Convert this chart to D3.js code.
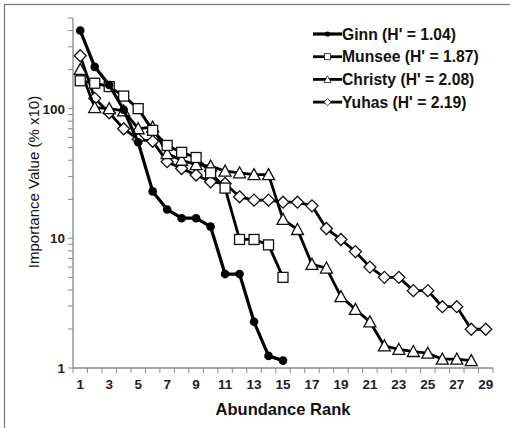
<!DOCTYPE html>
<html>
<head>
<meta charset="utf-8">
<script src="https://cdn.jsdelivr.net/npm/d3@7"></script>
<style>
  body { margin: 0; background: #fff; }
  svg { font-family: "Liberation Sans", Arial, sans-serif; }
</style>
</head>
<body>
<svg id="chart"></svg>
<script>
const CHART_WIDTH = 510;
const CHART_HEIGHT = 428;
const MARGIN = { left: 73, right: 17, top: 18, bottom: 60 };
const WIDTH = CHART_WIDTH - MARGIN.left - MARGIN.right;
const HEIGHT = CHART_HEIGHT - MARGIN.top - MARGIN.bottom;

// ranks 1..29
const RANKS = d3.range(1, 30);
const X_TICK_LABELS = [1, 3, 5, 7, 9, 11, 13, 15, 17, 19, 21, 23, 25, 27, 29];
const Y_TICK_LABELS = [1, 10, 100];

const ginn = [400, 210, 152, 98, 55, 23, 16.7, 14.3, 14.3, 12.3, 5.3, 5.3, 2.27, 1.24, 1.14];
const munsee = [164, 157, 148, 125, 100, 68, 52, 46, 42, 32, 24.4, 9.8, 9.8, 8.9, 5.0];
const christy = [201, 102, 100, 96, 70, 72, 45, 40, 37, 36, 33, 32, 31, 31, 14, 11.7, 6.3, 5.9,
  3.55, 2.83, 2.27, 1.48, 1.39, 1.34, 1.30, 1.17, 1.17, 1.14];
const yuhas = [256, 120, 93, 70, 58, 56, 39, 34.5, 30.8, 27.3, 26.5, 20.9, 19.7, 19.7, 19, 19, 17.8,
  11.9, 9.8, 7.9, 6.0, 5.0, 5.0, 3.95, 3.95, 2.97, 2.97, 1.99, 1.99];

const SERIES_NAMES = ["Ginn (H' = 1.04)", "Munsee (H' = 1.87)", "Christy (H' = 2.08)", "Yuhas (H' = 2.19)"];

const series = [
  { name: SERIES_NAMES[0], values: ginn, marker: "circle", width: 3.2 },
  { name: SERIES_NAMES[1], values: munsee, marker: "square", width: 2.8 },
  { name: SERIES_NAMES[2], values: christy, marker: "triangle", width: 2.8 },
  { name: SERIES_NAMES[3], values: yuhas, marker: "diamond", width: 2.8 }
];

const svg = d3.select('#chart')
  .attr("width", CHART_WIDTH)
  .attr("height", CHART_HEIGHT);

// frame round the picture
svg.append("rect")
  .attr("x", 4.5).attr("y", 4.5)
  .attr("width", CHART_WIDTH).attr("height", CHART_HEIGHT)
  .attr("fill", "none").attr("stroke", "#777").attr("stroke-width", 1.2);

const plot = svg.append("g")
  .attr("transform", `translate(${MARGIN.left},${MARGIN.top})`);

const x = d3.scaleLinear()
  .domain([0.5, RANKS.length + 0.5])
  .range([0, WIDTH]);

const y = d3.scaleLog()
  .domain([1, 500])
  .range([HEIGHT, 0]);

// x axis: ticks between categories, labels on odd ranks
const xAxis = plot.append("g")
  .attr("transform", `translate(0,${HEIGHT})`);
xAxis.append("line")
  .attr("x1", 0).attr("x2", WIDTH)
  .attr("stroke", "#888").attr("stroke-width", 1.3);
xAxis.selectAll(".xt")
  .data(d3.range(0, RANKS.length + 1))
  .join("line")
  .attr("x1", d => x(d + 0.5)).attr("x2", d => x(d + 0.5))
  .attr("y1", 0).attr("y2", 5)
  .attr("stroke", "#888").attr("stroke-width", 1);
xAxis.selectAll(".xl")
  .data(X_TICK_LABELS)
  .join("text")
  .attr("x", d => x(d))
  .attr("y", 21)
  .attr("text-anchor", "middle")
  .attr("font-size", 13.5)
  .attr("font-weight", "bold")
  .attr("fill", "#222")
  .text(d => d);

// y axis with minor ticks
const yAxis = plot.append("g");
yAxis.append("line")
  .attr("y1", 0).attr("y2", HEIGHT)
  .attr("stroke", "#888").attr("stroke-width", 1.3);
const yTicks = [];
[1, 10, 100].forEach(dec => d3.range(1, 10).forEach(m => {
  if (m * dec <= 500) yTicks.push(m * dec);
}));
yAxis.selectAll(".yt")
  .data(yTicks)
  .join("line")
  .attr("x1", -5).attr("x2", 0)
  .attr("y1", d => y(d)).attr("y2", d => y(d))
  .attr("stroke", "#888").attr("stroke-width", 1);
yAxis.selectAll(".yl")
  .data(Y_TICK_LABELS)
  .join("text")
  .attr("x", -8)
  .attr("y", d => y(d))
  .attr("dy", "0.36em")
  .attr("text-anchor", "end")
  .attr("font-size", 13.5)
  .attr("font-weight", "bold")
  .attr("fill", "#222")
  .text(d => d);

// axis titles
svg.append("text")
  .attr("x", MARGIN.left + WIDTH / 2)
  .attr("y", 415)
  .attr("text-anchor", "middle")
  .attr("font-size", 16.5)
  .attr("font-weight", "bold")
  .attr("fill", "#111")
  .text("Abundance Rank");

svg.append("text")
  .attr("transform", "translate(39,182) rotate(-90)")
  .attr("text-anchor", "middle")
  .attr("font-size", 15)
  .attr("fill", "#111")
  .text("Importance Value (% x10)");

function drawMarker(sel, type) {
  if (type === "circle") {
    sel.append("circle").attr("r", 4.3).attr("fill", "#000");
  } else if (type === "square") {
    sel.append("rect").attr("x", -5).attr("y", -5).attr("width", 10).attr("height", 10)
      .attr("fill", "#fff").attr("stroke", "#111").attr("stroke-width", 1.3);
  } else if (type === "triangle") {
    sel.append("path").attr("d", "M0,-6L6,5L-6,5Z")
      .attr("fill", "#fff").attr("stroke", "#111").attr("stroke-width", 1.3);
  } else {
    sel.append("path").attr("d", "M0,-6L6,0L0,6L-6,0Z")
      .attr("fill", "#fff").attr("stroke", "#111").attr("stroke-width", 1.3);
  }
}

const line = d3.line()
  .x((d, i) => x(i + 1))
  .y(d => y(d));

// draw back to front: last series first
series.slice().reverse().forEach(s => {
  const g = plot.append("g");
  g.append("path")
    .datum(s.values)
    .attr("d", line)
    .attr("fill", "none")
    .attr("stroke", "#000")
    .attr("stroke-width", s.width)
    .attr("stroke-linejoin", "round");
  g.selectAll(".pt")
    .data(s.values)
    .join("g")
    .attr("transform", (d, i) => `translate(${x(i + 1)},${y(d)})`)
    .each(function() { drawMarker(d3.select(this), s.marker); });
});

// legend
const legend = svg.append("g").attr("transform", "translate(313,34)");
series.forEach((s, i) => {
  const row = legend.append("g").attr("transform", `translate(0,${i * 22.7})`);
  row.append("line")
    .attr("x1", 0).attr("x2", 29)
    .attr("stroke", "#000").attr("stroke-width", s.width);
  const m = row.append("g").attr("transform", "translate(14.5,0) scale(0.6)");
  drawMarker(m, s.marker);
  row.append("text")
    .attr("x", 29)
    .attr("dy", "0.36em")
    .attr("font-size", 15.7)
    .attr("font-weight", "bold")
    .attr("fill", "#111")
    .text(s.name);
});
</script>
</body>
</html>
